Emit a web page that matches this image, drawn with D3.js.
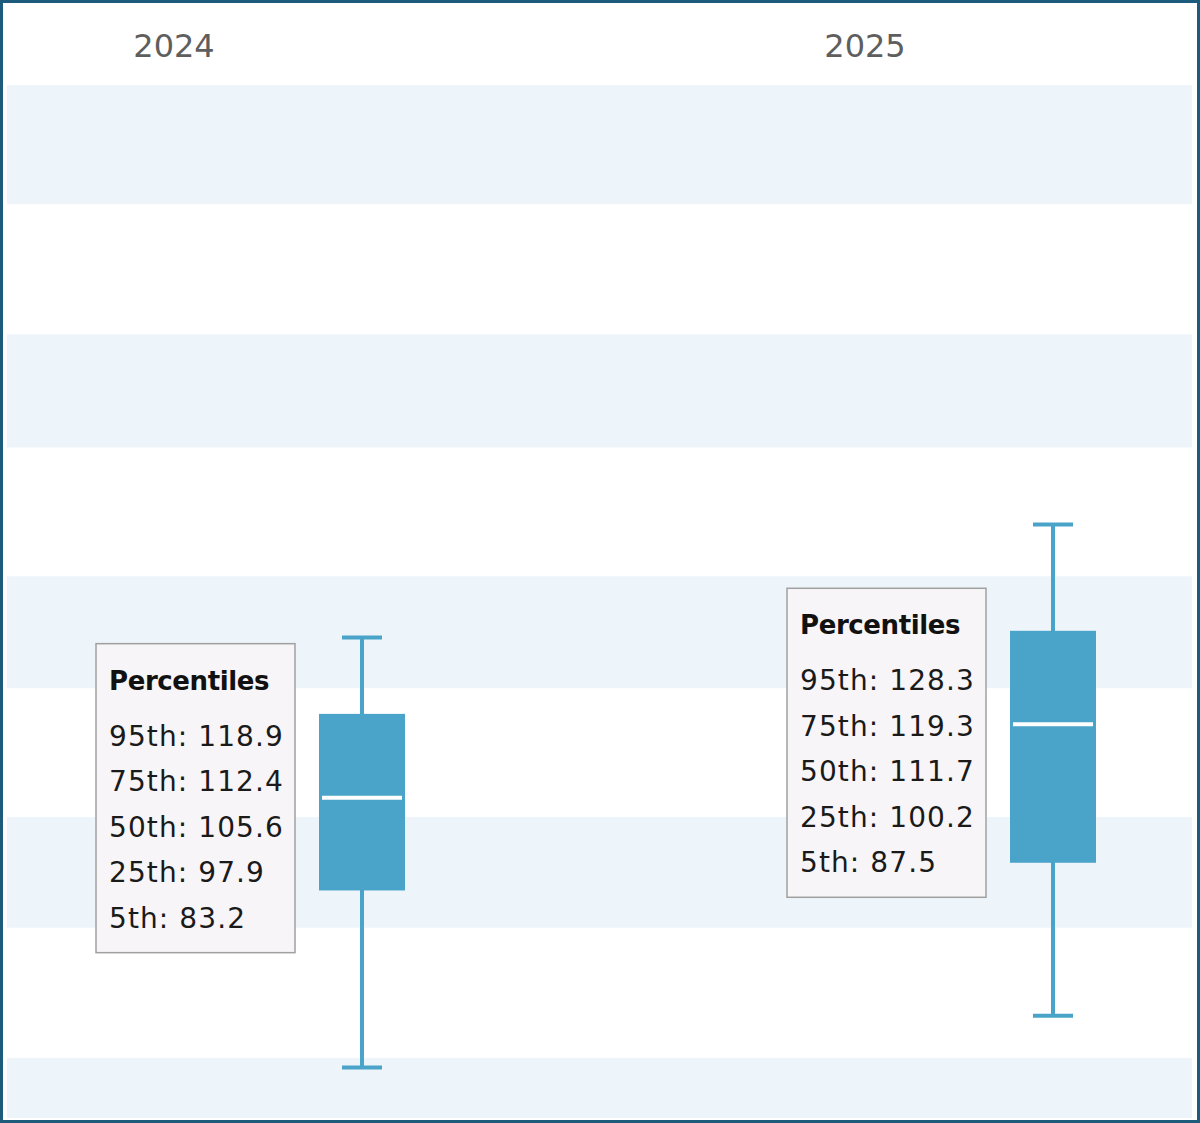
<!DOCTYPE html>
<html>
<head>
<meta charset="utf-8">
<script src="https://cdn.jsdelivr.net/npm/d3@7"></script>
<style>
    html, body { margin: 0; padding: 0; background: #fff; }
    svg { display: block; font-family: 'DejaVu Sans', sans-serif; }
</style>
</head>
<body>
<svg id="chart" width="1200" height="1123"></svg>
<script>
// percentile values per year
const years = ['2024', '2025'];
const p95 = [118.9, 128.3];
const p75 = [112.4, 119.3];
const p50 = [105.6, 111.7];
const p25 = [97.9, 100.2];
const p5 = [83.2, 87.5];
// alternate bands behind the plot (value ranges)
const bandRanges = [[154.9, 164.8], [134.7, 144.1], [114.7, 124.0], [94.8, 104.0], [79.0, 84.0]];

const width = 1200;
const height = 1123;
const plot = { left: 7, right: 1192, top: 85, bottom: 1118 };

const svg = d3.select('#chart');

const y = d3.scaleLinear().domain([79, 164.8]).range([plot.bottom, plot.top]);
const x = d3.scalePoint().domain(years).range([174, 865]);
const boxOffset = 188;
const boxWidth = 86;
const capWidth = 40;
const boxColor = '#4aa3c9';

// bands
svg.append('g')
    .selectAll('rect')
    .data(bandRanges)
    .enter()
    .append('rect')
    .attr('x', plot.left)
    .attr('width', plot.right - plot.left)
    .attr('y', d => y(d[1]))
    .attr('height', d => y(d[0]) - y(d[1]))
    .attr('fill', '#edf5fb');

// category labels
svg.append('g')
    .selectAll('text')
    .data(years)
    .enter()
    .append('text')
    .attr('x', d => x(d))
    .attr('y', 57)
    .attr('text-anchor', 'middle')
    .attr('font-size', 32)
    .attr('fill', '#5e5e5e')
    .text(d => d);

const rows = years.map((yr, i) => ({
    year: yr, p95: p95[i], p75: p75[i], p50: p50[i], p25: p25[i], p5: p5[i]
}));

const boxes = svg.append('g')
    .selectAll('g')
    .data(rows)
    .enter()
    .append('g')
    .attr('transform', d => 'translate(' + (x(d.year) + boxOffset) + ',0)');

// whisker
boxes.append('line')
    .attr('x1', 0).attr('x2', 0)
    .attr('y1', d => y(d.p95))
    .attr('y2', d => y(d.p5))
    .attr('stroke', boxColor)
    .attr('stroke-width', 4);

boxes.selectAll('.cap')
    .data(d => [d.p95, d.p5])
    .enter()
    .append('line')
    .attr('class', 'cap')
    .attr('x1', -capWidth / 2).attr('x2', capWidth / 2)
    .attr('y1', d => y(d)).attr('y2', d => y(d))
    .attr('stroke', boxColor)
    .attr('stroke-width', 4);

boxes.append('rect')
    .attr('x', -boxWidth / 2)
    .attr('width', boxWidth)
    .attr('y', d => y(d.p75) - 2)
    .attr('height', d => y(d.p25) - y(d.p75) + 2)
    .attr('fill', boxColor);

boxes.append('line')
    .attr('x1', -boxWidth / 2 + 3).attr('x2', boxWidth / 2 - 3)
    .attr('y1', d => y(d.p50)).attr('y2', d => y(d.p50))
    .attr('stroke', '#fff')
    .attr('stroke-width', 4);

// percentile tooltips, left of each box
const tipW = 199;
const tipH = 309;
const tips = boxes.append('g')
    .attr('transform', d => {
        const mid = (y(d.p75) + y(d.p25)) / 2;
        return 'translate(-266,' + (mid - 5 - tipH / 2) + ')';
    });

tips.append('rect')
    .attr('width', tipW)
    .attr('height', tipH)
    .attr('fill', '#f7f5f7')
    .attr('stroke', '#a0a0a0')
    .attr('stroke-width', 1.5);

tips.append('text')
    .attr('x', 13)
    .attr('y', 46)
    .attr('font-size', 26)
    .attr('font-weight', 'bold')
    .attr('letter-spacing', -0.4)
    .attr('fill', '#111')
    .text('Percentiles');

tips.selectAll('.line')
    .data(d => [
        '95th: ' + d.p95.toFixed(1),
        '75th: ' + d.p75.toFixed(1),
        '50th: ' + d.p50.toFixed(1),
        '25th: ' + d.p25.toFixed(1),
        '5th: ' + d.p5.toFixed(1)
    ])
    .enter()
    .append('text')
    .attr('class', 'line')
    .attr('x', 13)
    .attr('y', (d, i) => 102 + i * 45.5)
    .attr('font-size', 28)
    .attr('letter-spacing', 1.1)
    .attr('fill', '#1a1a1a')
    .text(d => d);

// outer frame
svg.append('rect')
    .attr('x', 1.5).attr('y', 1.5)
    .attr('width', width - 3).attr('height', height - 3)
    .attr('fill', 'none')
    .attr('stroke', '#1d5b7d')
    .attr('stroke-width', 3);
</script>
</body>
</html>
